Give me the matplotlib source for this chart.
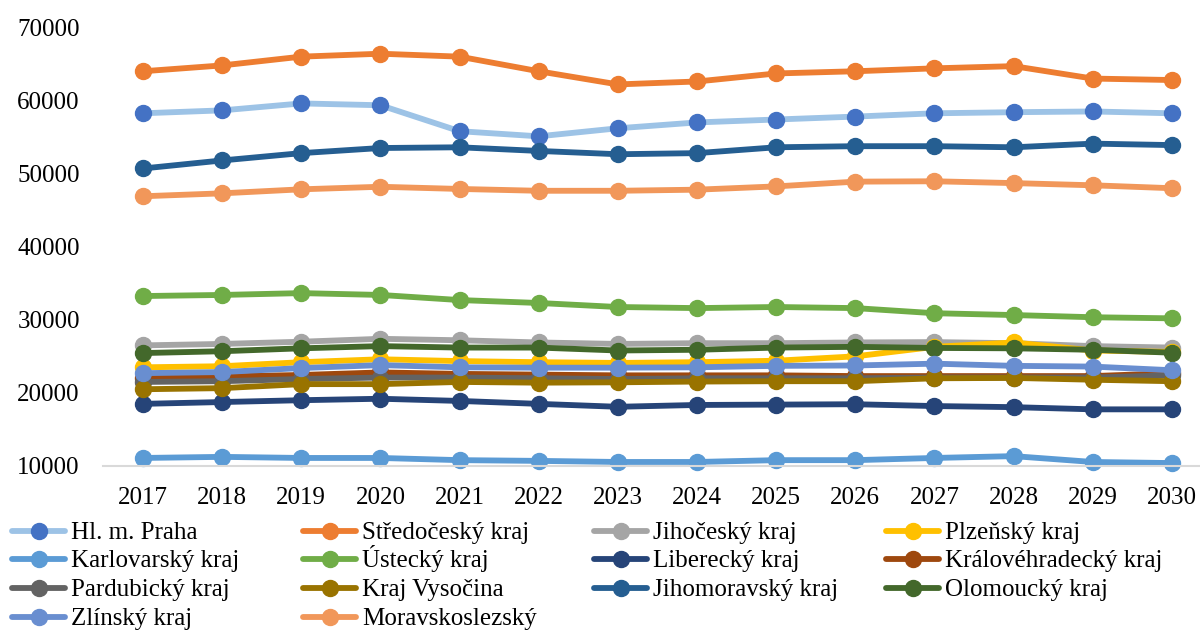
import matplotlib
matplotlib.use("Agg")
import matplotlib.pyplot as plt
from matplotlib.lines import Line2D

years = list(range(2017, 2031))

praha        = [58250, 58650, 59600, 59350, 55800, 55100, 56200, 57000, 57400, 57800, 58250, 58400, 58500, 58250]
stredocesky  = [64000, 64800, 66000, 66400, 66000, 64000, 62200, 62600, 63700, 64000, 64400, 64700, 63000, 62800]
jihocesky    = [26500, 26700, 27000, 27400, 27200, 26900, 26700, 26800, 26800, 26900, 26950, 26800, 26400, 26200]
plzensky     = [23500, 23650, 24200, 24600, 24350, 24200, 24100, 24200, 24400, 25000, 26300, 26900, 25800, 25600]
karlovarsky  = [11100, 11250, 11100, 11100, 10800, 10700, 10550, 10550, 10800, 10800, 11100, 11350, 10550, 10400]
ustecky      = [33250, 33400, 33650, 33400, 32700, 32300, 31750, 31600, 31750, 31600, 30900, 30650, 30350, 30200]
liberecky    = [18500, 18750, 19000, 19200, 18900, 18500, 18100, 18350, 18400, 18450, 18200, 18050, 17750, 17750]
kralovehrad  = [22100, 22250, 22450, 22800, 22600, 22500, 22400, 22400, 22400, 22300, 22300, 22300, 22300, 22700]
pardubicky   = [21500, 21600, 21900, 22100, 22100, 22000, 21900, 22000, 22000, 22000, 22100, 22100, 22100, 22400]
vysocina     = [20500, 20650, 21200, 21200, 21500, 21400, 21450, 21550, 21600, 21600, 22000, 22050, 21800, 21600]
jihomoravsky = [50700, 51800, 52800, 53500, 53600, 53100, 52650, 52800, 53600, 53750, 53750, 53600, 54100, 53900]
olomoucky    = [25450, 25700, 26100, 26400, 26200, 26200, 25800, 25900, 26200, 26300, 26150, 26100, 25900, 25500]
zlinsky      = [22700, 22850, 23400, 23800, 23500, 23450, 23450, 23500, 23700, 23750, 24000, 23700, 23600, 23100]
moravskosl   = [46900, 47300, 47850, 48200, 47900, 47650, 47650, 47800, 48250, 48900, 48950, 48700, 48400, 48000]

labels = ["Hl. m. Praha", "Středočeský kraj", "Jihočeský kraj", "Plzeňský kraj",
          "Karlovarský kraj", "Ústecký kraj", "Liberecký kraj", "Královéhradecký kraj",
          "Pardubický kraj", "Kraj Vysočina", "Jihomoravský kraj", "Olomoucký kraj",
          "Zlínský kraj", "Moravskoslezský"]
series = [praha, stredocesky, jihocesky, plzensky, karlovarsky, ustecky, liberecky,
          kralovehrad, pardubicky, vysocina, jihomoravsky, olomoucky, zlinsky, moravskosl]
line_colors = ["#9DC3E6", "#ED7D31", "#A5A5A5", "#FFC000", "#5B9BD5", "#70AD47", "#264478",
               "#9E480E", "#636363", "#997300", "#255E91", "#43682B", "#698ED0", "#F1975A"]
marker_colors = ["#4472C4", "#ED7D31", "#A5A5A5", "#FFC000", "#5B9BD5", "#70AD47", "#264478",
                 "#9E480E", "#636363", "#997300", "#255E91", "#43682B", "#698ED0", "#F1975A"]

FONT = "Liberation Serif"
FS = 18

fig = plt.figure(figsize=(12, 6.3), dpi=100)
W, H = 1200, 630
left_px, right_px = 103.4, 1200
top_px, bot_px = 27.4, 466
ax = fig.add_axes([left_px / W, 1 - bot_px / H, (right_px - left_px) / W, (bot_px - top_px) / H])

for lab, vals, lc, mc in zip(labels, series, line_colors, marker_colors):
    ax.plot(years, vals, color=lc, lw=4.2, marker="o", markersize=11.5,
            markerfacecolor=mc, markeredgecolor=mc, solid_capstyle="round",
            label=lab, clip_on=False)

ax.set_xlim(2016.5, 2016.5 + (right_px - left_px) / 79.15)
ax.set_ylim(10000, 70000)
ax.set_xticks(years)
ax.set_xticklabels([str(y) for y in years])
ax.set_yticks(range(10000, 70001, 10000))
ax.tick_params(axis="both", length=0, labelsize=FS)
ax.tick_params(axis="y", pad=17)
ax.tick_params(axis="x", pad=15)
for t in ax.get_xticklabels() + ax.get_yticklabels():
    t.set_fontfamily(FONT)
    t.set_color("#000000")
for s in ["top", "right", "left"]:
    ax.spines[s].set_visible(False)
ax.spines["bottom"].set_color("#D9D9D9")
ax.spines["bottom"].set_linewidth(1.5)

# legend: 4 columns, entries laid out row-wise, drawn at fixed grid positions
col_x = [12, 303, 594, 886]
row_y = [530.7, 559.3, 588.2, 616.9]
handle_len = 53
ncol = 4
for i, lab in enumerate(labels):
    r, c = divmod(i, ncol)
    x0 = col_x[c]
    yc = row_y[r]
    fy = 1 - yc / H
    fig.add_artist(Line2D([x0 / W, (x0 + handle_len) / W], [fy, fy],
                          transform=fig.transFigure, color=line_colors[i], lw=4.2,
                          solid_capstyle="round"))
    fig.add_artist(Line2D([(x0 + handle_len / 2) / W], [fy], transform=fig.transFigure,
                          marker="o", markersize=11.5, markerfacecolor=marker_colors[i],
                          markeredgecolor=marker_colors[i], linestyle="none"))
    fig.text((x0 + handle_len + 6) / W, 1 - (yc + 8.0) / H, lab, ha="left", va="baseline",
             fontsize=FS, family=FONT, color="#000000")

fig.savefig("out.png", dpi=100)
